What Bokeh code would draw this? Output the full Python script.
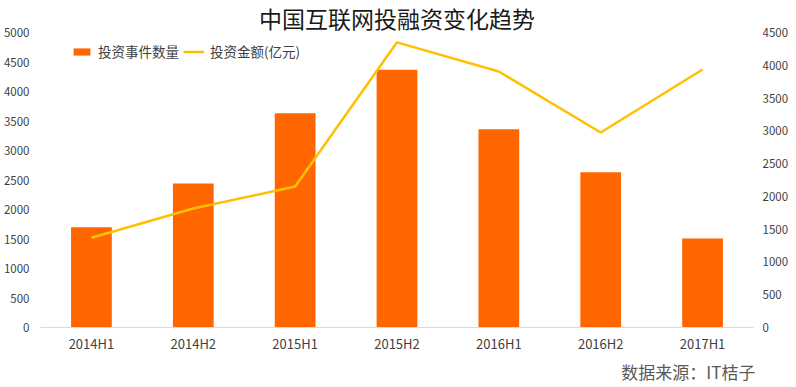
from bokeh.plotting import figure
from bokeh.models import (ColumnDataSource, FactorRange, Range1d, LinearAxis,
                          Legend, LegendItem, Title, SingleIntervalTicker)
from bokeh.embed import file_html
from bokeh.resources import INLINE

periods = ["2014H1", "2014H2", "2015H1", "2015H2", "2016H1", "2016H2", "2017H1"]
event_counts = [1700, 2440, 3630, 4370, 3360, 2630, 1510]
amounts = [1370, 1815, 2150, 4350, 3905, 2975, 3935]

title_text = "中国互联网投融资变化趋势"
source_text = "数据来源：IT桔子"
bar_label = "投资事件数量"
line_label = "投资金额(亿元)"

FONT = "Noto Sans CJK SC"
TICK_COLOR = "#404040"

src = ColumnDataSource(dict(period=periods, count=event_counts, amount=amounts))

p = figure(x_range=FactorRange(*periods), y_range=Range1d(0, 5000),
           frame_width=713, frame_height=295,
           output_backend="svg", toolbar_location=None,
           min_border_left=32, min_border_right=43, min_border_top=0,
           min_border_bottom=0)
p.extra_y_ranges = {"right": Range1d(0, 4500)}

bars = p.vbar(x="period", top="count", width=0.4, source=src,
              fill_color="#FF6600", line_color=None)
line = p.line(x="period", y="amount", source=src, y_range_name="right",
              line_color="#FFC000", line_width=2.5)

p.outline_line_color = None
p.background_fill_color = "white"
p.border_fill_color = "white"
p.xgrid.grid_line_color = None
p.ygrid.grid_line_color = None

# x axis
xa = p.xaxis[0]
xa.axis_line_color = "#D9D9D9"
xa.major_tick_line_color = None
xa.minor_tick_line_color = None
xa.major_label_text_font = FONT
xa.major_label_text_font_size = "13px"
xa.major_label_text_color = TICK_COLOR
xa.major_label_standoff = 0

# left axis
ya = p.yaxis[0]
ya.ticker = SingleIntervalTicker(interval=500)
ya.axis_line_color = None
ya.major_tick_line_color = None
ya.minor_tick_line_color = None
ya.major_label_text_font = FONT
ya.major_label_text_font_size = "11.5px"
ya.major_label_text_color = TICK_COLOR
ya.major_label_standoff = 5

# right axis
ra = LinearAxis(y_range_name="right", ticker=SingleIntervalTicker(interval=500))
ra.axis_line_color = None
ra.major_tick_line_color = None
ra.minor_tick_line_color = None
ra.major_label_text_font = FONT
ra.major_label_text_font_size = "11.5px"
ra.major_label_text_color = TICK_COLOR
ra.major_label_standoff = 3
p.add_layout(ra, "right")

legend = Legend(items=[LegendItem(label=bar_label, renderers=[bars]),
                       LegendItem(label=line_label, renderers=[line])],
                orientation="horizontal", location=(31, 266),
                background_fill_alpha=0, border_line_color=None,
                padding=0, margin=0, spacing=4, label_standoff=6,
                glyph_width=21, glyph_height=9, label_height=14,
                label_text_font=FONT, label_text_font_size="13.5px",
                label_text_color=TICK_COLOR)
p.add_layout(legend, "center")

title = Title(text=title_text, align="center", text_font=FONT,
              text_font_size="23px", text_font_style="normal",
              text_color="#1a1a1a", standoff=-4, offset=-4)
p.add_layout(title, "above")

source = Title(text=source_text, align="right", text_font=FONT,
               text_font_size="17px", text_font_style="normal",
               text_color="#595959", standoff=2, offset=-2)
p.add_layout(source, "below")

open("out.html", "w").write(file_html(p, INLINE))
